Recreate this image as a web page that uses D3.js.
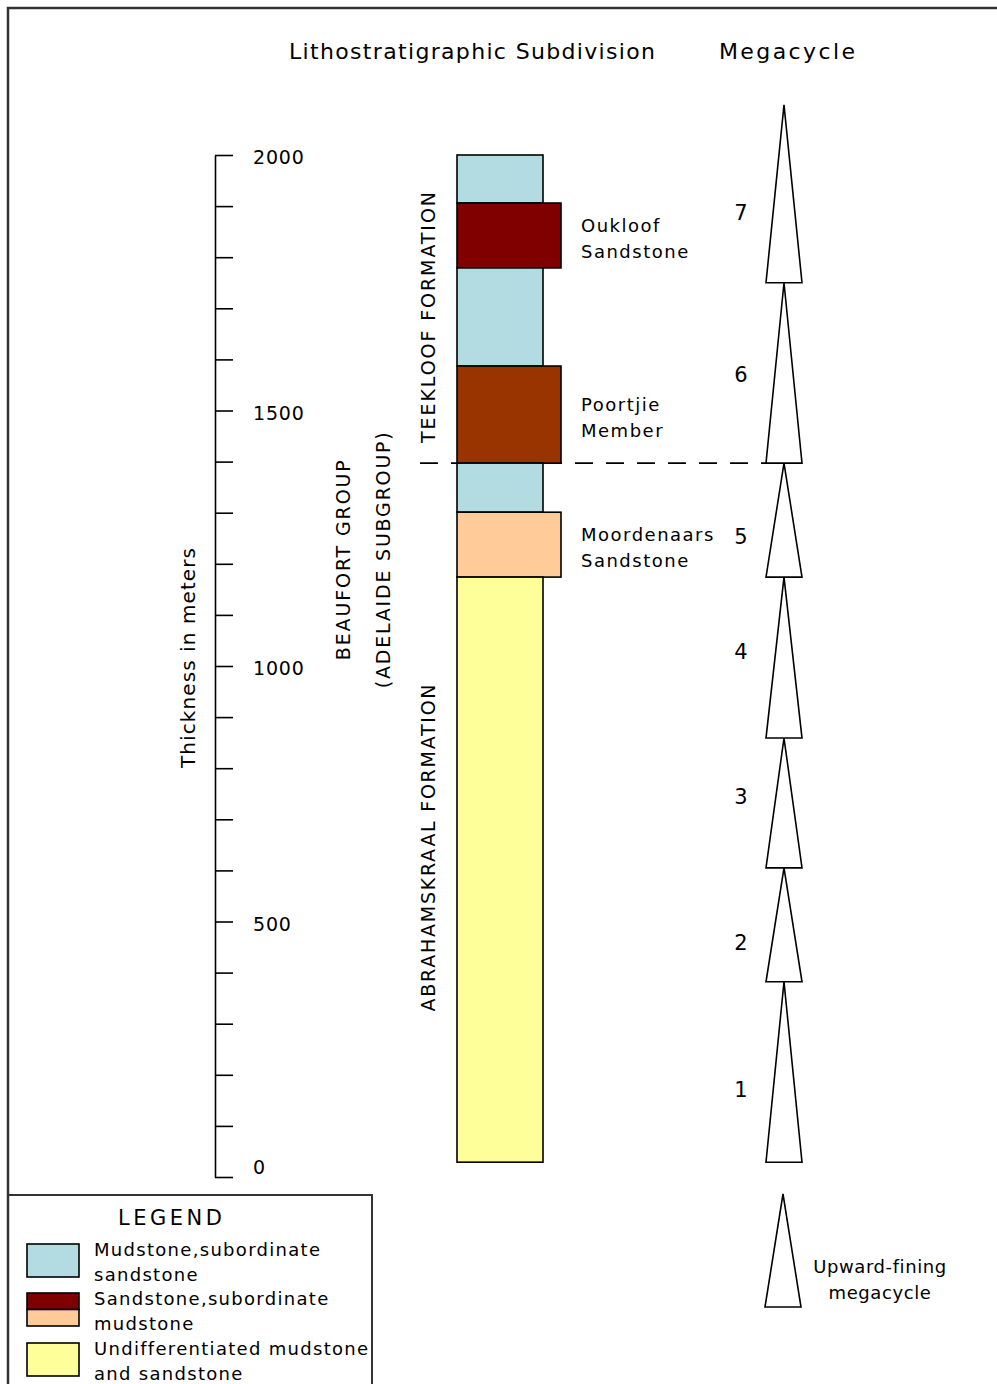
<!DOCTYPE html>
<html>
<head>
<meta charset="utf-8">
<script src="https://cdn.jsdelivr.net/npm/d3@7"></script>
<style>
  body { margin: 0; background: #fff; }
  svg { display: block; font-family: "DejaVu Sans", sans-serif; }
</style>
</head>
<body>
<div id="chart"></div>
<script>
// thickness ticks (metres)
const depthTicks = d3.range(0, 2001, 100);
const labelledTicks = [0, 500, 1000, 1500, 2000];

// lithological column, top to bottom (metres)
const layerKind = ["mud", "oukloof", "mud", "poortjie", "mud", "moordenaars", "undiff"];
const layerTop = [2000, 1906, 1779, 1587, 1397, 1301, 1174];
const layerBase = [1906, 1779, 1587, 1397, 1301, 1174, 29];
const layerLabel = ["", "Oukloof\nSandstone", "", "Poortjie\nMember", "", "Moordenaars\nSandstone", ""];

// formations / group
const formationNames = ["TEEKLOOF FORMATION", "ABRAHAMSKRAAL FORMATION"];
const formationLabelAt = [1682, 644];
const formationBoundary = 1397;
const groupNames = ["BEAUFORT GROUP", "(ADELAIDE SUBGROUP)"];
const groupLabelAt = 1207;

// megacycles (upward-fining triangles)
const megacycleNames = ["1", "2", "3", "4", "5", "6", "7"];
const megacycleBase = [29, 382, 605, 859, 1174, 1397, 1750];
const megacycleTop = [382, 605, 859, 1174, 1397, 1750, 2098];
const megacycleLabelAt = [170, 458, 744, 1027, 1252, 1569, 1886];

const legendNames = ["Mudstone,subordinate\nsandstone", "Sandstone,subordinate\nmudstone", "Undifferentiated mudstone\nand sandstone"];

const color = {
  mud: "#b2dce1",
  oukloof: "#800000",
  poortjie: "#993300",
  moordenaars: "#ffcc99",
  undiff: "#ffff99"
};

const width = 997, height = 1384;
const svg = d3.select("#chart").append("svg")
  .attr("width", width)
  .attr("height", height);

const y = d3.scaleLinear().domain([0, 2000]).range([1177, 155]);

// frame
svg.append("path")
  .attr("d", `M8,${height + 5} V8 H${width + 5}`)
  .attr("fill", "none")
  .attr("stroke", "#333")
  .attr("stroke-width", 2.5);

// titles
svg.append("text").attr("x", 289).attr("y", 59)
  .attr("font-size", 22).attr("textLength", 366).attr("lengthAdjust", "spacing")
  .text("Lithostratigraphic Subdivision");
svg.append("text").attr("x", 719).attr("y", 59)
  .attr("font-size", 22).attr("textLength", 136).attr("lengthAdjust", "spacing")
  .text("Megacycle");

// thickness axis
const axis = d3.axisRight(y)
  .tickValues(depthTicks)
  .tickSize(18)
  .tickSizeOuter(0)
  .tickPadding(20)
  .tickFormat(d => labelledTicks.includes(d) ? d : "");

const gAxis = svg.append("g")
  .attr("transform", "translate(215,0)")
  .call(axis);
gAxis.select(".domain").attr("stroke", "#000").attr("stroke-width", 1.6);
gAxis.selectAll(".tick line").attr("stroke", "#000").attr("stroke-width", 1.6);
gAxis.selectAll(".tick text")
  .attr("font-family", "DejaVu Sans, sans-serif")
  .attr("font-size", 19)
  .attr("fill", "#000")
  .attr("dy", d => d === 0 ? "-0.2em" : "0.45em")
  .style("letter-spacing", "0.8px");

function vText(x, yc, txt, len, size) {
  svg.append("text")
    .attr("transform", `translate(${x},${yc}) rotate(-90)`)
    .attr("text-anchor", "middle")
    .attr("dominant-baseline", "central")
    .attr("font-size", size || 19)
    .attr("textLength", len)
    .attr("lengthAdjust", "spacing")
    .text(txt);
}

vText(188, y(1000) - 8, "Thickness in meters", 220, 20);
vText(343, y(groupLabelAt), groupNames[0], 200);
vText(383, y(groupLabelAt), groupNames[1], 256);
vText(428, y(formationLabelAt[0]), formationNames[0], 251);
vText(428, y(formationLabelAt[1]), formationNames[1], 327);

// dashed formation boundary
svg.append("line")
  .attr("x1", 420).attr("x2", 766)
  .attr("y1", y(formationBoundary)).attr("y2", y(formationBoundary))
  .attr("stroke", "#000")
  .attr("stroke-width", 1.6)
  .attr("stroke-dasharray", "18,13");

// column
const layers = layerKind.map((k, i) => ({ kind: k, top: layerTop[i], base: layerBase[i], label: layerLabel[i] }));

svg.selectAll("rect.layer")
  .data(layers)
  .enter()
  .append("rect")
  .attr("class", "layer")
  .attr("x", 457)
  .attr("width", d => d.kind === "mud" || d.kind === "undiff" ? 86 : 104)
  .attr("y", d => y(d.top))
  .attr("height", d => y(d.base) - y(d.top))
  .attr("fill", d => color[d.kind])
  .attr("stroke", "#000")
  .attr("stroke-width", 1.6);

layers.filter(d => d.label).forEach(d => {
  const mid = (y(d.top) + y(d.base)) / 2 + 3;
  d.label.split("\n").forEach((line, j) => {
    svg.append("text")
      .attr("x", 581)
      .attr("y", mid + (j === 0 ? -13 : 13))
      .attr("dominant-baseline", "central")
      .attr("font-size", 18)
      .style("letter-spacing", "1.5px")
      .text(line);
  });
});

// megacycle triangles
const cx = 784, halfW = 18;
const cycles = megacycleNames.map((n, i) => ({ name: n, base: megacycleBase[i], top: megacycleTop[i], at: megacycleLabelAt[i] }));

svg.selectAll("path.cycle")
  .data(cycles)
  .enter()
  .append("path")
  .attr("class", "cycle")
  .attr("d", d => `M${cx},${y(d.top)} L${cx + halfW},${y(d.base)} L${cx - halfW},${y(d.base)} Z`)
  .attr("fill", "#fff")
  .attr("stroke", "#000")
  .attr("stroke-width", 1.6)
  .attr("stroke-linejoin", "miter");

svg.selectAll("text.cycle")
  .data(cycles)
  .enter()
  .append("text")
  .attr("class", "cycle")
  .attr("x", 741)
  .attr("y", d => y(d.at))
  .attr("text-anchor", "middle")
  .attr("dominant-baseline", "central")
  .attr("font-size", 21)
  .text(d => d.name);

// legend box
svg.append("path")
  .attr("d", `M8,1195 H372 V${height + 5}`)
  .attr("fill", "none")
  .attr("stroke", "#333")
  .attr("stroke-width", 2);

svg.append("text").attr("x", 170).attr("y", 1218)
  .attr("text-anchor", "middle").attr("dominant-baseline", "central")
  .attr("font-size", 21).attr("textLength", 104).attr("lengthAdjust", "spacing")
  .text("LEGEND");

const swatchTop = [1244, 1293, 1343];
const swatchFills = [[color.mud], [color.oukloof, color.moordenaars], [color.undiff]];
legendNames.forEach((name, i) => {
  const fills = swatchFills[i];
  const h = 33 / fills.length;
  fills.forEach((f, j) => {
    svg.append("rect")
      .attr("x", 27).attr("y", swatchTop[i] + j * h)
      .attr("width", 52).attr("height", h)
      .attr("fill", f)
      .attr("stroke", "#000").attr("stroke-width", 1.6);
  });
  name.split("\n").forEach((line, j) => {
    svg.append("text")
      .attr("x", 94)
      .attr("y", swatchTop[i] + 5 + j * 25)
      .attr("dominant-baseline", "central")
      .attr("font-size", 18)
      .style("letter-spacing", "1.3px")
      .text(line);
  });
});

// megacycle legend
svg.append("path")
  .attr("d", `M${cx - 1},1194 L${cx + halfW - 1},1307 L${cx - halfW - 1},1307 Z`)
  .attr("fill", "#fff")
  .attr("stroke", "#000")
  .attr("stroke-width", 1.6);

["Upward-fining", "megacycle"].forEach((line, j) => {
  svg.append("text")
    .attr("x", 880)
    .attr("y", 1266 + j * 26)
    .attr("text-anchor", "middle")
    .attr("dominant-baseline", "central")
    .attr("font-size", 18)
    .style("letter-spacing", "0.6px")
    .text(line);
});
</script>
</body>
</html>
